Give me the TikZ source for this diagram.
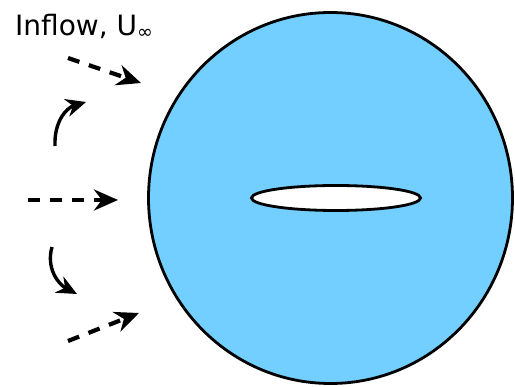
\documentclass[tikz,border=0pt]{standalone}
\usepackage{fontspec}
\setmainfont{DejaVu Sans}
\usetikzlibrary{arrows.meta, shapes.geometric}
\definecolor{diskblue}{RGB}{114,207,255}

\begin{document}
\begin{tikzpicture}[x=1pt,y=-1pt,
    body/.style={ellipse,draw,line width=2.8pt,inner sep=0pt},
    flow/.style={-{Stealth[length=24pt,width=21pt]},line width=4.2pt,
      dash pattern=on 12pt off 10pt},
    swirl/.style={-{Stealth[length=20pt,width=18pt]},line width=3.4pt}
  ]
  \useasboundingbox (0,0) rectangle (515,387);

  % disk and slit
  \node[body,fill=diskblue,minimum width=364pt,minimum height=371pt] (disk) at (330.5,198) {};
  \node[body,fill=white,minimum width=169pt,minimum height=25pt] (slit) at (336,198) {};

  % label
  \node[anchor=base west,inner sep=0pt,font=\fontsize{28}{30}\selectfont] (inflow) at (15,36)
    {Inflow, U\raisebox{-3pt}{\fontsize{19}{19}\selectfont ∞}};

  % inflow arrows
  \coordinate (a1) at (68,58);   \coordinate (b1) at (141,83);
  \coordinate (a2) at (28,200);  \coordinate (b2) at (118,200);
  \coordinate (a3) at (68,341);  \coordinate (b3) at (139,313);
  \foreach \a/\b in {a1/b1, a2/b2, a3/b3} {
    \draw[flow] (\a) -- (\b); }

  % curved arrows
  \coordinate (c1) at (55,146);  \coordinate (d1) at (86,102);
  \coordinate (c2) at (52,247);  \coordinate (d2) at (77,294);
  \draw[swirl] (c1) .. controls (54,122) and (66,108) .. (d1);
  \draw[swirl] (c2) .. controls (46,268) and (58,284) .. (d2);
\end{tikzpicture}
\end{document}
